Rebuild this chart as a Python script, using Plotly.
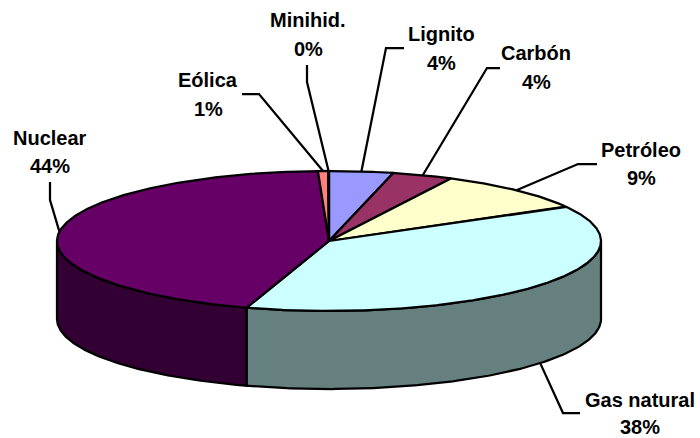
import numpy as np
import plotly.graph_objects as go

# Data, clockwise from the top of the pie
categories = ["Lignito", "Carbón", "Petróleo", "Gas natural", "Nuclear", "Eólica", "Minihid."]
shares = [3.8, 3.6, 9.4, 38.1, 44.45, 0.6, 0.05]
top_colors = ["#9999FF", "#993366", "#FFFFCC", "#CCFFFF", "#660066", "#FF8080", "#0066CC"]
side_colors = ["#4D4D80", "#4D1A33", "#808066", "#668080", "#330033", "#804040", "#003366"]

# Label placement (pixels): name centre, name y, percent y, and leader-line elbow points
label_x = [441, 536, 641, 640, 50, 208, 308]
name_y = [34, 53, 150, 400, 138, 80, 20]
pct_y = [63, 82, 178, 427, 166, 109, 49]
leader_x = [[404, 386], [500, 487], [597, 578], [580, 563], [50, 50], [242, 259], [307, 307]]
leader_y = [[48, 48], [68, 68], [164, 164], [413, 413], [182, 200], [94, 94], [65, 82]]

# Pie projection (pixels)
CX, CY, RX, RY, DEPTH = 329.0, 241.0, 272.0, 70.0, 78.0
LINE = 2.25


def ellipse(t_deg, drop=0.0):
    t = np.radians(t_deg)
    return CX + RX * np.sin(t), CY - RY * np.cos(t) + drop


total = sum(shares)
edges = np.concatenate([[0], np.cumsum(shares)]) * 360.0 / total

fig = go.Figure()


def polygon(x, y, color):
    fig.add_trace(go.Scatter(
        x=x, y=y, mode="lines", fill="toself", fillcolor=color,
        line=dict(color="#000000", width=LINE), hoverinfo="skip", showlegend=False,
    ))


# Outer wall: only the front half of the rim (90 deg to 270 deg) is visible
for i in range(len(shares)):
    a, b = max(edges[i], 90.0), min(edges[i + 1], 270.0)
    if b <= a:
        continue
    t = np.linspace(a, b, 160)
    xt, yt = ellipse(t)
    xb, yb = ellipse(t[::-1], DEPTH)
    polygon(np.r_[xt, xb, xt[0]], np.r_[yt, yb, yt[0]], side_colors[i])

# Top face
for i in range(len(shares)):
    t = np.linspace(edges[i], edges[i + 1], max(int(edges[i + 1] - edges[i]) * 3, 4))
    xt, yt = ellipse(t)
    polygon(np.r_[CX, xt, CX], np.r_[CY, yt, CY], top_colors[i])

# Leader lines start on the rim at each slice's mid angle
for i in range(len(shares)):
    mid = (edges[i] + edges[i + 1]) / 2
    front = 90.0 < mid < 270.0
    x0, y0 = ellipse(mid, DEPTH if front else 0.0)
    fig.add_trace(go.Scatter(
        x=list(leader_x[i]) + [float(x0)], y=list(leader_y[i]) + [float(y0)], mode="lines",
        line=dict(color="#000000", width=LINE), hoverinfo="skip", showlegend=False,
    ))

font = dict(family="Liberation Sans, Arial, sans-serif", size=20, color="#000000", weight="bold")
for i, name in enumerate(categories):
    for y, txt in ((name_y[i], name), (pct_y[i], f"{round(shares[i] * 100 / total)}%")):
        fig.add_annotation(x=label_x[i], y=y, text=f"<b>{txt}</b>", showarrow=False,
                           xanchor="center", yanchor="middle", font=font)

fig.update_layout(
    width=700, height=438, margin=dict(l=0, r=0, t=0, b=0),
    paper_bgcolor="#FFFFFF", plot_bgcolor="#FFFFFF", showlegend=False,
    xaxis=dict(range=[0, 700], visible=False, fixedrange=True),
    yaxis=dict(range=[438, 0], visible=False, fixedrange=True),
)
fig.write_html("out.html", config={"displayModeBar": False},
               post_script="document.body.style.margin='0';document.documentElement.style.overflow='hidden';")
